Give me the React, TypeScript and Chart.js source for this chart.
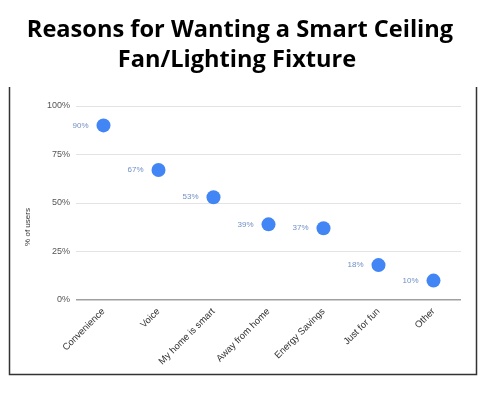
import React, { useEffect, useRef } from "react";
import { Chart, registerables } from "chart.js";

Chart.register(...registerables);

const titleLines = ["Reasons for Wanting a Smart Ceiling", "Fan/Lighting Fixture"];
const categories = [
  "Convenience",
  "Voice",
  "My home is smart",
  "Away from home",
  "Energy Savings",
  "Just for fun",
  "Other",
];
const percentUsers = [90, 67, 53, 39, 37, 18, 10];
const yAxisTitle = "% of users";

const TICK_FONT = "'Liberation Sans', Arial, sans-serif";

const decorPlugin = {
  id: "decor",
  afterDraw(chart: any) {
    const ctx = chart.ctx as CanvasRenderingContext2D;
    ctx.save();
    // title
    ctx.fillStyle = "#000";
    ctx.font = "bold 23.6px 'Open Sans', sans-serif";
    ctx.textAlign = "center";
    ctx.textBaseline = "alphabetic";
    ctx.fillText(titleLines[0], 240, 37);
    ctx.fillText(titleLines[1], 237, 67);
    // frame
    ctx.strokeStyle = "#333";
    ctx.lineWidth = 1.5;
    ctx.beginPath();
    ctx.moveTo(9.5, 87);
    ctx.lineTo(9.5, 374.5);
    ctx.lineTo(476.5, 374.5);
    ctx.lineTo(476.5, 87);
    ctx.stroke();
    // y axis title
    ctx.fillStyle = "#333";
    ctx.font = `8px ${TICK_FONT}`;
    ctx.translate(28, 227);
    ctx.rotate(-Math.PI / 2);
    ctx.textAlign = "center";
    ctx.textBaseline = "middle";
    ctx.fillText(yAxisTitle, 0, 0);
    ctx.restore();
    // data labels
    const meta = chart.getDatasetMeta(0);
    ctx.save();
    ctx.fillStyle = "#6f8fc6";
    ctx.font = `8px ${TICK_FONT}`;
    ctx.textAlign = "right";
    ctx.textBaseline = "middle";
    meta.data.forEach((el: any, i: number) => {
      ctx.fillText(`${percentUsers[i]}%`, el.x - 15, el.y);
    });
    ctx.restore();
  },
};

export default function App() {
  const ref = useRef<HTMLCanvasElement>(null);
  useEffect(() => {
    document.body.style.margin = "0";
    const chart = new Chart(ref.current!, {
      type: "line",
      data: {
        labels: categories,
        datasets: [
          {
            data: percentUsers,
            showLine: false,
            pointRadius: 7,
            pointHoverRadius: 7,
            pointBackgroundColor: "#4285f4",
            pointBorderColor: "#4285f4",
            pointBorderWidth: 0,
          },
        ],
      },
      options: {
        animation: false,
        responsive: false,
        events: [],
        layout: { padding: { left: 9, right: 26, top: 106, bottom: 19 } },
        plugins: {
          legend: { display: false },
          title: { display: false },
          tooltip: { enabled: false },
        },
        scales: {
          x: {
            offset: true,
            grid: { display: false, drawTicks: false },
            border: { display: false },
            ticks: {
              minRotation: 45,
              maxRotation: 45,
              autoSkip: false,
              padding: 6,
              color: "#333",
              font: { family: TICK_FONT, size: 9.5 },
            },
            afterFit(scale: any) {
              scale.height = 74;
            },
          },
          y: {
            min: 0,
            max: 100,
            grid: {
              drawTicks: false,
              color: (c: any) => (c.tick && c.tick.value === 0 ? "#a0a0a0" : "#e3e3e3"),
              lineWidth: (c: any) => (c.tick && c.tick.value === 0 ? 1.5 : 1),
            },
            border: { display: false },
            ticks: {
              stepSize: 25,
              padding: 6,
              color: "#555",
              font: { family: TICK_FONT, size: 9 },
              callback: (v: any) => `${v}%`,
            },
            afterFit(scale: any) {
              scale.width = 67;
            },
          },
        },
      },
      plugins: [decorPlugin],
    });
    return () => chart.destroy();
  }, []);
  return <canvas ref={ref} width={487} height={393} style={{ display: "block" }} />;
}
